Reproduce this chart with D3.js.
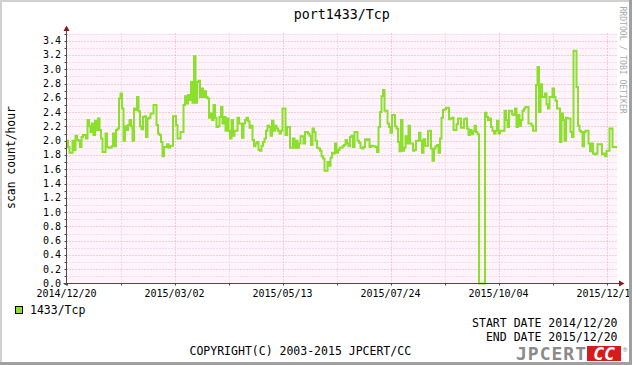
<!DOCTYPE html>
<html><head><meta charset="utf-8">
<script src="https://cdn.jsdelivr.net/npm/d3@7"></script>
<style>
body{margin:0;background:#fff;}
svg{display:block;}
text{font-family:"DejaVu Sans Mono",monospace;}
</style>
</head><body>
<svg id="c" width="632" height="365"></svg>
<script>
const titleText = "port1433/Tcp";
const yAxisTitle = "scan count/hour";
const seriesName = "1433/Tcp";
const startDateStr = "2014-12-20";
const footerLines = ["START DATE 2014/12/20", "END DATE 2015/12/20"];
const copyrightText = "COPYRIGHT(C) 2003-2015 JPCERT/CC";
const watermark = "RRDTOOL / TOBI OETIKER";
const yTickValues = [0,0.2,0.4,0.6,0.8,1.0,1.2,1.4,1.6,1.8,2.0,2.2,2.4,2.6,2.8,3.0,3.2,3.4];
const xTickLabels = ["2014/12/20","2015/03/02","2015/05/13","2015/07/24","2015/10/04","2015/12/15"];
// daily values starting 2014/12/20
const scanValues = [
2.0,1.91,1.83,1.83,2.0,1.87,2.07,2.01,2.0,1.91,
2.05,2.08,2.08,2.03,2.29,2.2,2.12,2.24,2.08,2.28,
2.15,2.31,2.15,2.03,1.84,1.84,2.1,1.91,1.9,1.9,
1.92,2.1,1.92,2.15,2.17,2.59,2.66,2.45,2.0,2.2,
2.15,2.22,2.29,2.2,2.0,2.45,2.43,2.61,2.41,2.2,
2.16,2.33,2.34,2.05,2.31,2.32,2.38,2.38,2.5,2.5,
2.22,2.1,2.08,1.98,1.78,1.91,1.91,1.95,1.9,1.93,
1.93,2.34,2.34,
2.22,2.03,2.03,2.12,2.12,2.5,2.62,2.52,2.64,2.57,
2.82,2.53,3.18,2.53,2.82,2.84,2.61,2.73,2.61,2.69,
2.61,2.59,2.32,2.38,2.29,2.5,2.32,2.19,2.2,2.33,
2.47,2.24,2.33,2.14,2.31,2.14,2.03,2.29,2.07,2.14,
2.14,2.32,2.24,2.24,2.04,2.24,2.29,2.32,2.27,2.18,
2.21,2.01,1.92,1.96,1.98,1.87,1.86,1.93,1.98,2.03,
2.14,2.21,2.19,2.07,2.28,2.14,2.21,2.17,2.14,2.1,
2.14,2.45,2.45,
2.08,2.19,2.19,1.9,1.9,2.03,1.9,2.0,1.9,1.96,
2.06,2.06,1.96,2.12,2.12,2.1,2.07,1.94,2.17,2.12,
2.0,1.9,1.89,1.86,1.78,1.75,1.58,1.58,1.7,1.65,
1.76,1.83,1.82,1.96,1.83,1.87,1.9,1.9,1.92,1.94,
2.01,1.96,1.92,2.05,2.07,1.91,2.12,2.12,2.0,1.97,
1.9,1.89,1.91,2.02,2.01,2.02,1.91,1.93,1.92,1.92,
1.91,1.84,2.19,2.4,2.62,2.71,2.42,2.42,2.24,2.19,
2.11,2.36,2.36,
2.2,2.17,1.98,1.85,2.29,1.86,1.9,2.06,1.96,2.21,
1.96,1.96,1.86,1.87,2.0,2.0,2.11,2.0,1.83,2.02,
1.93,1.93,2.13,2.14,1.89,1.72,1.89,1.92,1.94,1.83,
2.03,2.32,2.43,2.44,2.46,2.46,2.3,2.31,2.32,2.15,
2.15,2.23,2.31,2.31,2.18,2.18,2.3,2.31,2.17,2.08,
2.15,2.09,2.13,2.21,2.12,2.09,0,0,0,0,
2.39,2.33,2.29,2.31,2.19,2.14,2.1,2.14,2.28,2.1,
2.14,2.14,2.14,2.42,
2.29,2.19,2.42,2.42,2.37,2.36,2.45,2.19,2.36,2.21,
2.29,2.42,2.45,2.47,2.47,2.24,2.24,2.21,2.14,2.14,
2.78,3.03,2.4,2.79,2.61,2.61,2.66,2.51,2.45,2.61,
2.61,2.73,2.61,2.56,2.45,2.45,1.98,2.38,2.29,2.0,
2.32,2.31,2.31,2.12,2.05,3.26,3.26,2.75,2.21,2.14,
2.12,1.92,2.12,2.14,2.14,1.96,1.85,1.96,1.82,1.81,
1.82,1.95,1.95,1.95,1.81,1.82,1.78,1.86,1.86,2.17,
2.17,1.91,1.91,1.91
];

const W = 632, H = 365;
const plotL = 66.5, plotR = 617, plotT = 33.5, plotB = 283.5;
const lineColor = "#8ae02a";

const svg = d3.select("#c");
svg.append("rect").attr("width", W).attr("height", H).attr("fill", "#fff");

const parse = d3.utcParse("%Y-%m-%d");
const parseLbl = d3.utcParse("%Y/%m/%d");
const start = parse(startDateStr);
const end = d3.utcDay.offset(start, scanValues.length);
const x = d3.scaleUtc().domain([start, end]).range([plotL, plotR]);
const y = d3.scaleLinear().domain([0, 3.5]).range([plotB, plotT]);

// plot background
svg.append("rect").attr("x", plotL).attr("y", y(3.5)).attr("width", plotR - plotL)
  .attr("height", plotB - y(3.5)).attr("fill", "#fff3fc");

// horizontal grid
const minorY = d3.range(1, 36).map(i => i / 10);
svg.append("g").selectAll("line").data(minorY).join("line")
  .attr("x1", plotL).attr("x2", plotR)
  .attr("y1", d => Math.round(y(d)) + 0.5).attr("y2", d => Math.round(y(d)) + 0.5)
  .attr("stroke", (d) => (Math.round(d * 10) % 2 === 0) ? "#eaa6ae" : "#efc6d6")
  .attr("stroke-dasharray", "1,2");

// vertical grid
const tickDates = xTickLabels.map(parseLbl);
const minorDates = tickDates.slice(0, -1).map(d => d3.utcDay.offset(d, 36));
svg.append("g").selectAll("line").data(minorDates).join("line")
  .attr("x1", d => Math.round(x(d)) + 0.5).attr("x2", d => Math.round(x(d)) + 0.5)
  .attr("y1", y(3.5)).attr("y2", plotB)
  .attr("stroke", "#e4c4d6").attr("stroke-dasharray", "1,2");
svg.append("g").selectAll("line").data(tickDates.slice(1)).join("line")
  .attr("x1", d => Math.round(x(d)) + 0.5).attr("x2", d => Math.round(x(d)) + 0.5)
  .attr("y1", y(3.5)).attr("y2", plotB)
  .attr("stroke", "#eaa6ae").attr("stroke-dasharray", "1,2");

// data line
const pts = scanValues.map((v, i) => ({ d: d3.utcDay.offset(start, i), v }));
pts.push({ d: end, v: scanValues[scanValues.length - 1] });
const line = d3.line().x(p => x(p.d)).y(p => y(p.v)).curve(d3.curveStepAfter);
svg.append("path").datum(pts).attr("d", line).attr("fill", "none")
  .attr("stroke", lineColor).attr("stroke-width", 2).attr("stroke-linejoin", "miter");

// axes
const axisColor = "#5a4646";
svg.append("line").attr("x1", plotL).attr("x2", plotL).attr("y1", plotB + 2).attr("y2", 30)
  .attr("stroke", axisColor);
svg.append("line").attr("x1", plotL - 3).attr("x2", 621).attr("y1", plotB).attr("y2", plotB)
  .attr("stroke", axisColor);
svg.append("path").attr("d", `M${plotL - 3},31 L${plotL},25.5 L${plotL + 3},31 Z`).attr("fill", "#8b1a1a");
svg.append("path").attr("d", `M619,${plotB - 3} L624.5,${plotB} L619,${plotB + 3} Z`).attr("fill", "#8b1a1a");

// y ticks
svg.append("g").selectAll("line").data(minorY.concat([0])).join("line")
  .attr("x1", plotL - 2).attr("x2", plotL)
  .attr("y1", d => Math.round(y(d)) + 0.5).attr("y2", d => Math.round(y(d)) + 0.5)
  .attr("stroke", axisColor);
// x ticks
svg.append("g").selectAll("line").data(tickDates.concat(minorDates)).join("line")
  .attr("x1", d => Math.round(x(d)) + 0.5).attr("x2", d => Math.round(x(d)) + 0.5)
  .attr("y1", plotB).attr("y2", plotB + 2)
  .attr("stroke", axisColor);

// y labels
svg.append("g").selectAll("text").data(yTickValues).join("text")
  .attr("x", 61).attr("y", d => y(d) + 3.5)
  .attr("text-anchor", "end").attr("font-size", 10).attr("fill", "#000")
  .text(d => d3.format(".1f")(d));

// x labels
svg.append("g").selectAll("text").data(xTickLabels).join("text")
  .attr("x", d => x(parseLbl(d))).attr("y", 296.5)
  .attr("text-anchor", "middle").attr("font-size", 10).attr("fill", "#000")
  .text(d => d);

// title
svg.append("text").attr("x", (plotL + plotR) / 2).attr("y", 19)
  .attr("text-anchor", "middle").attr("font-size", 13.3).attr("fill", "#000").text(titleText);

// y axis title
svg.append("text").attr("transform", "translate(14.5,157.5) rotate(-90)")
  .attr("text-anchor", "middle").attr("font-size", 11.4).attr("fill", "#000").text(yAxisTitle);

// watermark
svg.append("text").attr("transform", "translate(619.5,6.5) rotate(90)")
  .attr("font-size", 8.1).attr("fill", "#aaaaaa").text(watermark);

// legend
svg.append("rect").attr("x", 15.5).attr("y", 306.5).attr("width", 7).attr("height", 7)
  .attr("fill", lineColor).attr("stroke", "#000");
svg.append("text").attr("x", 30).attr("y", 313.5).attr("font-size", 11.5).attr("fill", "#000").text(seriesName);

// footer
svg.append("g").selectAll("text").data(footerLines).join("text")
  .attr("x", 617.5).attr("y", (d, i) => 326.7 + i * 14)
  .attr("text-anchor", "end").attr("font-size", 11.5).attr("fill", "#000").text(d => d);
svg.append("text").attr("x", 189.5).attr("y", 354.5).attr("font-size", 11.5).attr("fill", "#000").text(copyrightText);

// logo
const logo = svg.append("g");
logo.append("text").attr("x", 516).attr("y", 360).attr("font-family", "'Liberation Serif', serif")
  .attr("font-weight", "bold").attr("font-size", 18).attr("textLength", 70)
  .attr("fill", "#8a8a8a").text("JPCERT");
logo.append("rect").attr("x", 587).attr("y", 346).attr("width", 34).attr("height", 15).attr("fill", "#d71a1a");
logo.append("text").attr("x", 604).attr("y", 360).attr("text-anchor", "middle")
  .attr("font-family", "'Liberation Serif', serif").attr("font-weight", "bold").attr("font-style", "italic")
  .attr("font-size", 18).attr("fill", "#fff").text("CC");
logo.append("text").attr("x", 623).attr("y", 352).attr("font-family", "Liberation Sans")
  .attr("font-size", 7).attr("fill", "#888").text("®");

// frame
svg.append("rect").attr("x", 0).attr("y", 0).attr("width", W).attr("height", 2).attr("fill", "#d0d0d0");
svg.append("rect").attr("x", 0).attr("y", 0).attr("width", 2).attr("height", H).attr("fill", "#d0d0d0");
svg.append("rect").attr("x", W - 3).attr("y", 0).attr("width", 3).attr("height", H).attr("fill", "#a0a0a0");
svg.append("rect").attr("x", 0).attr("y", H - 3).attr("width", W).attr("height", 3).attr("fill", "#a0a0a0");
</script>
</body></html>
